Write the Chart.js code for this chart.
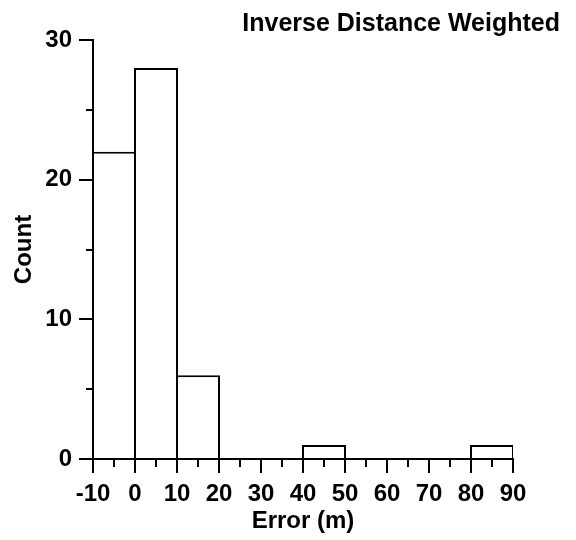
<!DOCTYPE html>
<html>
<head>
<meta charset="utf-8">
<script src="https://cdn.jsdelivr.net/npm/chart.js@4/dist/chart.umd.min.js"></script>
<style>
  body { margin: 0; background: #fff; }
  canvas { display: block; }
</style>
</head>
<body>
<canvas id="hist" width="576" height="540"></canvas>
<script>
// données de l'histogramme
const binEdges = [-10, 0, 10, 20, 30, 40, 50, 60, 70, 80, 90];
const counts = [22, 28, 6, 0, 0, 1, 0, 0, 0, 1];
const xTickValues = [-10, 0, 10, 20, 30, 40, 50, 60, 70, 80, 90];
const yTickValues = [0, 10, 20, 30];
const xMinorTicks = [-5, 5, 15, 25, 35, 45, 55, 65, 75, 85];
const yMinorTicks = [5, 15, 25];
const chartTitle = 'Inverse Distance Weighted';

const FONT = '"Liberation Sans", Arial, sans-serif';
const bold24 = { family: FONT, size: 24, weight: 'bold' };

// centre de chaque classe -> position de la barre
const points = counts.map((c, i) => ({ x: (binEdges[i] + binEdges[i + 1]) / 2, y: c }));

// petits traits (graduations secondaires) + titre en haut à droite
const extras = {
    id: 'extras',
    afterDraw(chart) {
        const { ctx, scales: { x, y }, chartArea } = chart;
        ctx.save();
        ctx.strokeStyle = '#000';
        ctx.lineWidth = 2;
        ctx.beginPath();
        xMinorTicks.forEach(v => {
            const px = Math.round(x.getPixelForValue(v));
            ctx.moveTo(px, chartArea.bottom);
            ctx.lineTo(px, chartArea.bottom + 8);
        });
        yMinorTicks.forEach(v => {
            const py = Math.round(y.getPixelForValue(v));
            ctx.moveTo(chartArea.left, py);
            ctx.lineTo(chartArea.left - 7, py);
        });
        ctx.stroke();

        ctx.fillStyle = '#000';
        ctx.font = 'bold 25px ' + FONT;
        ctx.textAlign = 'right';
        ctx.textBaseline = 'alphabetic';
        ctx.fillText(chartTitle, 560, 31);
        ctx.restore();
    }
};

new Chart(document.getElementById('hist'), {
    type: 'bar',
    data: {
        datasets: [{
            data: points,
            backgroundColor: '#fff',
            borderColor: '#000',
            borderWidth: 2,
            barPercentage: 44 / 42,   // bords partagés de 2px
            categoryPercentage: 1
        }]
    },
    options: {
        responsive: false,
        animation: false,
        layout: { padding: { top: 40, right: 63, left: 0, bottom: 0 } },
        plugins: { legend: { display: false }, tooltip: { enabled: false } },
        scales: {
            x: {
                type: 'linear', min: -10, max: 90, offset: false,
                afterBuildTicks: s => { s.ticks = xTickValues.map(v => ({ value: v })); },
                afterFit: s => { s.height = 81; },
                grid: { offset: false, drawOnChartArea: false, color: '#000', lineWidth: 2, tickLength: 14 },
                border: { display: true, color: '#000', width: 2 },
                ticks: { color: '#000', font: bold24, padding: 7, maxRotation: 0, autoSkip: false },
                title: { display: true, text: 'Error (m)', color: '#000', font: bold24, padding: { top: 0, bottom: 4 } }
            },
            y: {
                min: 0, max: 30,
                afterBuildTicks: s => { s.ticks = yTickValues.map(v => ({ value: v })); },
                afterFit: s => { s.width = 93; },
                grid: { drawOnChartArea: false, color: '#000', lineWidth: 2, tickLength: 14 },
                border: { display: true, color: '#000', width: 2 },
                ticks: { color: '#000', font: bold24, padding: 7 },
                title: { display: true, text: 'Count', color: '#000', font: bold24, padding: { top: 10, bottom: 0 } }
            }
        }
    },
    plugins: [extras]
});
</script>
</body>
</html>
